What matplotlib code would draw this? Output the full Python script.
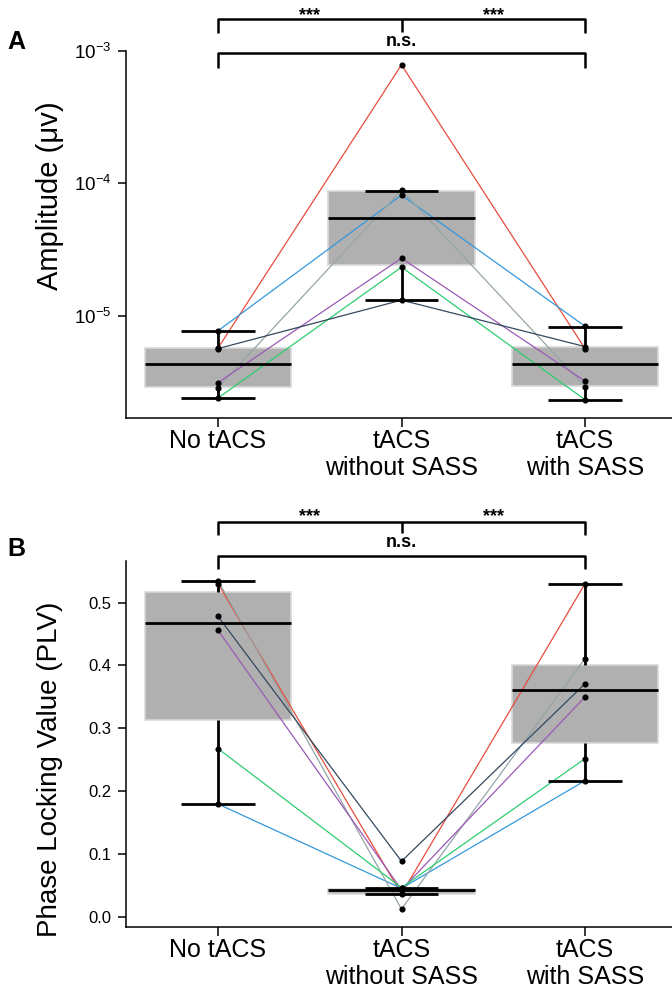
import matplotlib
matplotlib.use("Agg")
import matplotlib.pyplot as plt
import matplotlib.ticker as mticker
import numpy as np

plt.rcParams['font.family'] = ['Liberation Sans', 'DejaVu Sans']
plt.rcParams['mathtext.fontset'] = 'custom'
plt.rcParams['mathtext.rm'] = 'Liberation Sans'
plt.rcParams['mathtext.it'] = 'Liberation Sans:italic'
plt.rcParams['mathtext.bf'] = 'Liberation Sans:bold'

categories = ["No tACS", "tACS\nwithout SASS", "tACS\nwith SASS"]
subjects = ["S1", "S2", "S3", "S4", "S5", "S6"]
subject_colors = ["#e74c3c", "#3498db", "#95a5a6", "#9b59b6", "#2ecc71", "#34495e"]

# Panel A: amplitude (µV), per subject across the 3 conditions
amp_red    = [5.75e-6, 7.8e-4,  5.7e-6]
amp_blue   = [7.76e-6, 8.16e-5, 8.4e-6]
amp_gray   = [2.90e-6, 8.89e-5, 2.95e-6]
amp_purple = [3.16e-6, 2.73e-5, 3.24e-6]
amp_green  = [2.42e-6, 2.34e-5, 2.35e-6]
amp_dark   = [5.70e-6, 1.32e-5, 5.9e-6]

amp_box_lo  = [2.91e-6, 2.41e-5, 2.99e-6]
amp_box_hi  = [5.75e-6, 8.69e-5, 5.89e-6]
amp_median  = [4.39e-6, 5.45e-5, 4.39e-6]
amp_whis_lo = [2.42e-6, 1.32e-5, 2.35e-6]
amp_whis_hi = [7.76e-6, 8.8e-5,  8.32e-6]

# Panel B: phase locking value
plv_red    = [0.530, 0.037, 0.530]
plv_blue   = [0.180, 0.046, 0.217]
plv_gray   = [0.535, 0.013, 0.411]
plv_purple = [0.456, 0.044, 0.350]
plv_green  = [0.268, 0.047, 0.252]
plv_dark   = [0.478, 0.089, 0.371]

plv_box_lo  = [0.314, 0.037, 0.277]
plv_box_hi  = [0.517, 0.045, 0.401]
plv_median  = [0.467, 0.043, 0.361]
plv_whis_lo = [0.180, 0.0365, 0.217]
plv_whis_hi = [0.535, 0.046, 0.530]

W, H = 672, 998
fig = plt.figure(figsize=(W / 100, H / 100), dpi=100)

def ax_rect(top_px, bottom_px):
    left_px = 126.25
    width_px = 550.5
    return [left_px / W, 1 - bottom_px / H, width_px / W, (bottom_px - top_px) / H]

axA = fig.add_axes(ax_rect(50.5, 417.7))
axB = fig.add_axes(ax_rect(561, 927))

def draw_panel(ax, series, box_lo, box_hi, med, wlo, whi):
    x = np.arange(len(categories))
    ax.bar(x, np.array(box_hi) - np.array(box_lo), bottom=box_lo, width=0.8,
           color="#b0b0b0", edgecolor="#d8d8d8", linewidth=1.2, zorder=1)
    for vals, c in zip(series, subject_colors):
        ax.plot(x, vals, color=c, lw=0.9, zorder=2)
    ax.vlines(x, wlo, box_lo, color="black", lw=2.0, zorder=3)
    ax.vlines(x, box_hi, whi, color="black", lw=2.0, zorder=3)
    ax.hlines(wlo, x - 0.2, x + 0.2, color="black", lw=2.0, zorder=3)
    ax.hlines(whi, x - 0.2, x + 0.2, color="black", lw=2.0, zorder=3)
    ax.hlines(med, x - 0.4, x + 0.4, color="black", lw=2.0, zorder=3)
    for vals in series:
        ax.plot(x, vals, 'o', color="black", ms=3.4, zorder=4, lw=0)
    ax.set_xlim(-0.5, 2.5)
    ax.set_xticks(x)
    ax.set_xticklabels(categories, fontsize=18, linespacing=1.15)
    for s in ["top", "right"]:
        ax.spines[s].set_visible(False)
    for s in ["left", "bottom"]:
        ax.spines[s].set_linewidth(1.1)
    ax.tick_params(axis="x", direction="out", length=6.5, width=1.1, pad=1.5)
    ax.tick_params(axis="y", direction="out", length=6, width=1.1, pad=4.5, labelsize=12)

def brackets(ax, y1, y1end, ymid_end, y_stars, y_ns, y2, y2end):
    tr = ax.get_xaxis_transform()
    kw = dict(color="black", lw=1.8, transform=tr, clip_on=False, solid_capstyle="butt")
    ax.plot([0, 0, 2, 2], [y1end, y1, y1, y1end], **kw)
    ax.plot([1, 1], [y1, ymid_end], **kw)
    ax.plot([0, 0, 2, 2], [y2end, y2, y2, y2end], **kw)
    for xs in (0.5, 1.5):
        ax.text(xs, y_stars, "***", ha="center", va="baseline", fontsize=13,
                fontweight="bold", transform=tr)
    ax.text(1, y_ns, "n.s.", ha="center", va="baseline", fontsize=13,
            fontweight="bold", transform=tr)

draw_panel(axA, [amp_red, amp_blue, amp_gray, amp_purple, amp_green, amp_dark],
           amp_box_lo, amp_box_hi, amp_median, amp_whis_lo, amp_whis_hi)
axA.set_yscale("log")
axA.set_ylim(1.72e-6, 1e-3)
axA.yaxis.set_major_locator(mticker.LogLocator(base=10, numticks=10))
axA.yaxis.set_minor_locator(mticker.NullLocator())
axA.tick_params(axis="y", labelsize=13.5)
brackets(axA, 1.0858, 1.0468, 1.050, 1.083, 1.013, 0.9924, 0.953)

draw_panel(axB, [plv_red, plv_blue, plv_gray, plv_purple, plv_green, plv_dark],
           plv_box_lo, plv_box_hi, plv_median, plv_whis_lo, plv_whis_hi)
axB.set_ylim(-0.0154, 0.566)
axB.set_yticks([0.0, 0.1, 0.2, 0.3, 0.4, 0.5])
axB.yaxis.set_major_formatter(mticker.FormatStrFormatter("%.1f"))
brackets(axB, 1.1074, 1.071, 1.077, 1.108, 1.037, 1.0137, 0.978)

fig.text(50 / W, 1 - 196 / H, "Amplitude (\u03bcv)", rotation=90, ha="center",
         va="center", fontsize=21)
fig.text(50 / W, 1 - 769 / H, "Phase Locking Value (PLV)", rotation=90, ha="center",
         va="center", fontsize=20)
fig.text(16 / W, 1 - 42 / H, "A", ha="center", va="center", fontsize=18, fontweight="bold")
fig.text(16 / W, 1 - 549 / H, "B", ha="center", va="center", fontsize=18, fontweight="bold")

fig.savefig("out.png", dpi=100)
